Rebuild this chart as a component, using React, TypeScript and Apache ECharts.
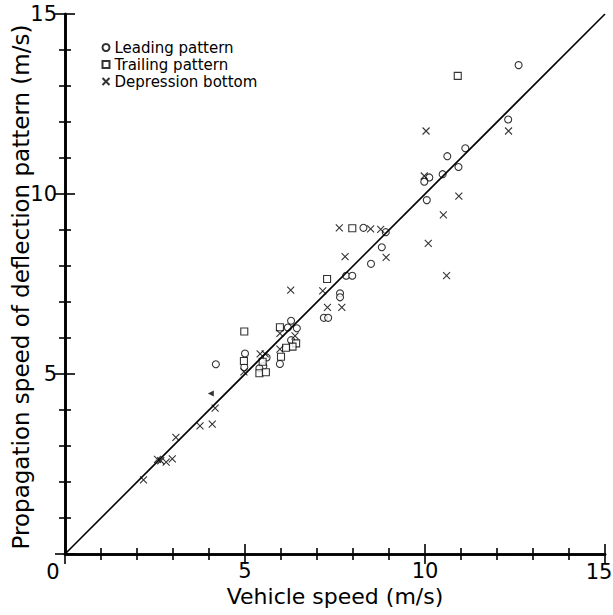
import React, { useEffect, useRef } from "react";
import * as echarts from "echarts";

const leadingX = [12.6, 12.31, 11.12, 10.62, 10.93, 10.49, 10.12, 9.98, 10.05, 8.91, 8.29, 8.8, 8.5, 7.81, 7.98, 7.64, 7.64, 7.19, 7.31, 6.28, 6.19, 6.44, 6.28, 5.97, 5.0, 4.98, 5.6, 5.51, 5.4, 4.19];
const leadingY = [13.58, 12.07, 11.27, 11.05, 10.75, 10.55, 10.46, 10.34, 9.83, 8.94, 9.06, 8.52, 8.06, 7.73, 7.73, 7.24, 7.13, 6.56, 6.56, 6.48, 6.29, 6.27, 5.94, 5.28, 5.57, 5.19, 5.46, 5.22, 5.16, 5.27];

const trailingX = [10.91, 7.98, 7.28, 4.98, 5.97, 6.42, 6.32, 6.14, 6.0, 4.97, 5.49, 5.4, 5.58];
const trailingY = [13.28, 9.05, 7.64, 6.18, 6.3, 5.85, 5.76, 5.73, 5.48, 5.36, 5.34, 5.02, 5.05];

const depressionX = [12.32, 10.03, 9.98, 10.94, 10.51, 10.09, 10.6, 7.62, 8.49, 8.77, 8.92, 7.78, 7.16, 6.27, 7.29, 7.69, 5.97, 6.39, 5.97, 5.42, 5.56, 4.97, 4.17, 4.09, 3.75, 3.08, 2.98, 2.81, 2.66, 2.57, 2.18];
const depressionY = [11.75, 11.75, 10.5, 9.94, 9.42, 8.63, 7.73, 9.06, 9.03, 9.02, 8.24, 8.26, 7.31, 7.33, 6.85, 6.85, 6.13, 6.06, 5.69, 5.56, 5.56, 5.06, 4.05, 3.61, 3.56, 3.24, 2.64, 2.55, 2.59, 2.63, 2.06];

const otherX = [4.05];
const otherY = [4.46];

const lineX = [0, 15];
const lineY = [0, 15];

const xTicks = [0, 5, 10, 15];
const yTicks = [0, 5, 10, 15];

const seriesNames = ["Leading pattern", "Trailing pattern", "Depression bottom"];

const zip = (a: number[], b: number[]) => a.map((v, i) => [v, b[i]]);

const FONT = "DejaVu Sans";

export default function App() {
  const ref = useRef<HTMLDivElement>(null);
  useEffect(() => {
    if (!ref.current) return;
    const chart = echarts.init(ref.current, null, { renderer: "svg" });
    const axisCommon = {
      min: 0,
      max: 15,
      interval: 5,
      axisLine: { show: true, lineStyle: { color: "#000", width: 2.6 } },
      axisTick: { show: true, inside: true, length: 10, lineStyle: { color: "#000", width: 1.6 } },
      minorTick: { show: true, splitNumber: 5, length: 6, lineStyle: { color: "#000", width: 1.6 } },
      splitLine: { show: false },
    };
    const first = xTicks[0];
    const last = xTicks[xTicks.length - 1];
    // the end labels (0 and 15) sit slightly off their ticks in the original, drawn as graphic texts below
    const labelFmt = (v: number) => (v === first || v === last || xTicks.indexOf(v) < 0 ? "" : String(v));
    const ylabelFmt = (v: number) => (v === yTicks[0] || yTicks.indexOf(v) < 0 ? "" : String(v));
    const markStyle = { color: "#fff", borderColor: "#000", borderWidth: 1.1 };
    chart.setOption({
      animation: false,
      backgroundColor: "#fff",
      grid: { left: 65, right: 8, top: 14, bottom: 61, containLabel: false },
      xAxis: [
        {
          ...axisCommon,
          type: "value",
          position: "bottom",
          axisLabel: { formatter: labelFmt, fontSize: 21, color: "#000", fontFamily: FONT, margin: 6 },
        },
        {
          ...axisCommon,
          type: "value",
          position: "top",
          axisLabel: { show: false },
        },
      ],
      yAxis: [
        {
          ...axisCommon,
          type: "value",
          position: "left",
          axisLabel: { formatter: ylabelFmt, fontSize: 21, color: "#000", fontFamily: FONT, margin: 8 },
        },
        {
          ...axisCommon,
          type: "value",
          position: "right",
          axisLabel: { show: false },
        },
      ],
      legend: {
        data: seriesNames,
        orient: "vertical",
        left: 95,
        top: 35,
        itemWidth: 7,
        itemHeight: 7,
        itemGap: 2,
        textStyle: { fontSize: 15, fontFamily: FONT, color: "#000", lineHeight: 15 },
      },
      graphic: [
        { type: "text", x: 53, y: 572, style: { text: String(first), fontSize: 21, fontFamily: FONT, fill: "#000", align: "center", verticalAlign: "middle" } },
        { type: "text", x: 599, y: 572, style: { text: String(last), fontSize: 21, fontFamily: FONT, fill: "#000", align: "center", verticalAlign: "middle" } },
        {
          type: "text",
          x: 335,
          y: 596,
          style: { text: "Vehicle speed (m/s)", fontSize: 22, fontFamily: FONT, fill: "#000", align: "center", verticalAlign: "middle" },
        },
        {
          type: "text",
          x: 21,
          y: 287,
          rotation: Math.PI / 2,
          style: { text: "Propagation speed of deflection pattern (m/s)", fontSize: 23, fontFamily: FONT, fill: "#000", align: "center", verticalAlign: "middle" },
        },
      ],
      series: [
        {
          name: "fit",
          type: "line",
          data: zip(lineX, lineY),
          symbol: "none",
          lineStyle: { color: "#000", width: 1.6 },
          silent: true,
        },
        {
          name: seriesNames[0],
          type: "scatter",
          data: zip(leadingX, leadingY),
          symbol: "circle",
          symbolSize: 7,
          itemStyle: markStyle,
        },
        {
          name: seriesNames[1],
          type: "scatter",
          data: zip(trailingX, trailingY),
          symbol: "rect",
          symbolSize: 7,
          itemStyle: markStyle,
        },
        {
          name: seriesNames[2],
          type: "scatter",
          data: zip(depressionX, depressionY),
          symbol: "path://M0,0L10,10M10,0L0,10",
          symbolSize: 7,
          itemStyle: { color: "none", borderColor: "#000", borderWidth: 1.1 },
        },
        {
          name: "other",
          type: "scatter",
          data: zip(otherX, otherY),
          symbol: "triangle",
          symbolRotate: 90,
          symbolSize: 6,
          itemStyle: { color: "#000" },
        },
      ],
    });
    return () => chart.dispose();
  }, []);
  return <div ref={ref} style={{ position: "fixed", left: 0, top: 0, width: 613, height: 615 }} />;
}
